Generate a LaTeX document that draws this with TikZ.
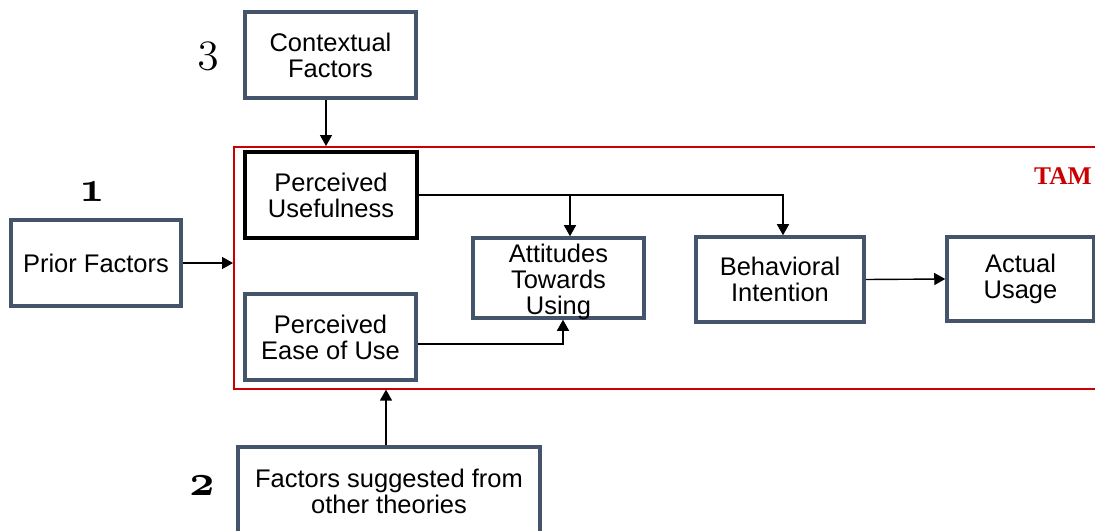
\documentclass[tikz,border=0pt]{standalone}
\usepackage{fontspec}
\setmainfont{Liberation Sans}
\newfontfamily\serifnum{Liberation Serif}
\usepackage{xcolor}
\definecolor{box-slate}{RGB}{68,84,106}
\definecolor{tam-red}{RGB}{204,0,0}
\usetikzlibrary{arrows.meta,positioning}
\newcommand{\osfbold}[1]{{\usefont{OML}{cmm}{b}{it}#1}}
\newcommand{\osfplain}[1]{{\usefont{OML}{cmm}{m}{it}#1}}

\begin{document}
\begin{tikzpicture}[
    every node/.style={inner sep=0pt},
    factor/.style={draw=box-slate, line width=2pt, fill=white, align=center,
        font=\fontsize{14.5}{14.8}\selectfont},
    link/.style={line width=0.8pt, -{Triangle[length=2.2mm,width=2.4mm]}}
]
\useasboundingbox (0,0) rectangle (21.9,-10.62);

% TAM frame (runs off the right edge)
\node[
    draw=tam-red,
    line width=0.9pt,
    minimum width=17.54cm,
    minimum height=4.84cm,
    anchor=north west
] (tam) at (4.66,-2.92) {};
\node[font=\serifnum\bfseries\fontsize{14.5}{14.5}\selectfont, text=tam-red]
    (tamlabel) at (21.26,-3.52) {TAM};

% Outside factors
\node[factor, minimum width=3.42cm, minimum height=1.72cm] (ctx) at (6.61,-1.10) {Contextual\\Factors};
\node[factor, minimum width=3.40cm, minimum height=1.72cm] (prior) at (1.92,-5.26) {Prior Factors};
\node[factor, minimum width=6.04cm, minimum height=1.78cm] (fac) at (7.78,-9.83) {Factors suggested from\\other theories};

% Numbers
\node[font=\fontsize{24}{24}\selectfont] (num1) at (1.84,-3.84) {\osfbold{1}};
\node[font=\fontsize{24}{24}\selectfont] (num2) at (4.04,-9.72) {\osfbold{2}};
\node[font=\fontsize{33}{33}\selectfont] (num3) at (4.16,-1.12) {\osfplain{3}};

% TAM constructs
\node[factor, draw=black, line width=2.4pt, minimum width=3.44cm, minimum height=1.72cm] (pu) at (6.62,-3.90) {Perceived\\Usefulness};
\node[factor, minimum width=3.42cm, minimum height=1.72cm] (peou) at (6.61,-6.74) {Perceived\\Ease of Use};
\node[factor, minimum width=3.42cm, minimum height=1.60cm] (att) at (11.17,-5.56) {};
\node[align=center, font=\fontsize{14.5}{14.6}\selectfont] (atttext) at ([yshift=-0.08cm]att.center) {Attitudes\\Towards\\Using};
\node[factor, minimum width=3.36cm, minimum height=1.70cm] (bi) at (15.60,-5.59) {Behavioral\\Intention};
\node[factor, minimum width=2.94cm, minimum height=1.68cm] (au) at (20.41,-5.58) {Actual\\Usage};

% Connectors
\coordinate (ctxout) at ([xshift=-0.09cm]ctx.south);
\draw[link] (ctxout) -- (ctxout |- tam.north);
\draw[link] (prior.east) -- (prior.east -| tam.west);
\coordinate (facout) at ([xshift=-0.06cm]fac.north);
\draw[link] (facout) -- (facout |- tam.south);
\draw[link] (pu.east) -| ([xshift=0.06cm]bi.north);
\coordinate (attin) at ([xshift=0.23cm]att.north);
\draw[link] (pu.east -| attin) -- (attin);
\draw[link] ([yshift=-0.14cm]peou.east) -| ([xshift=0.09cm]att.south);
\draw[link] (bi.east) -- (au.west);

\end{tikzpicture}
\end{document}
